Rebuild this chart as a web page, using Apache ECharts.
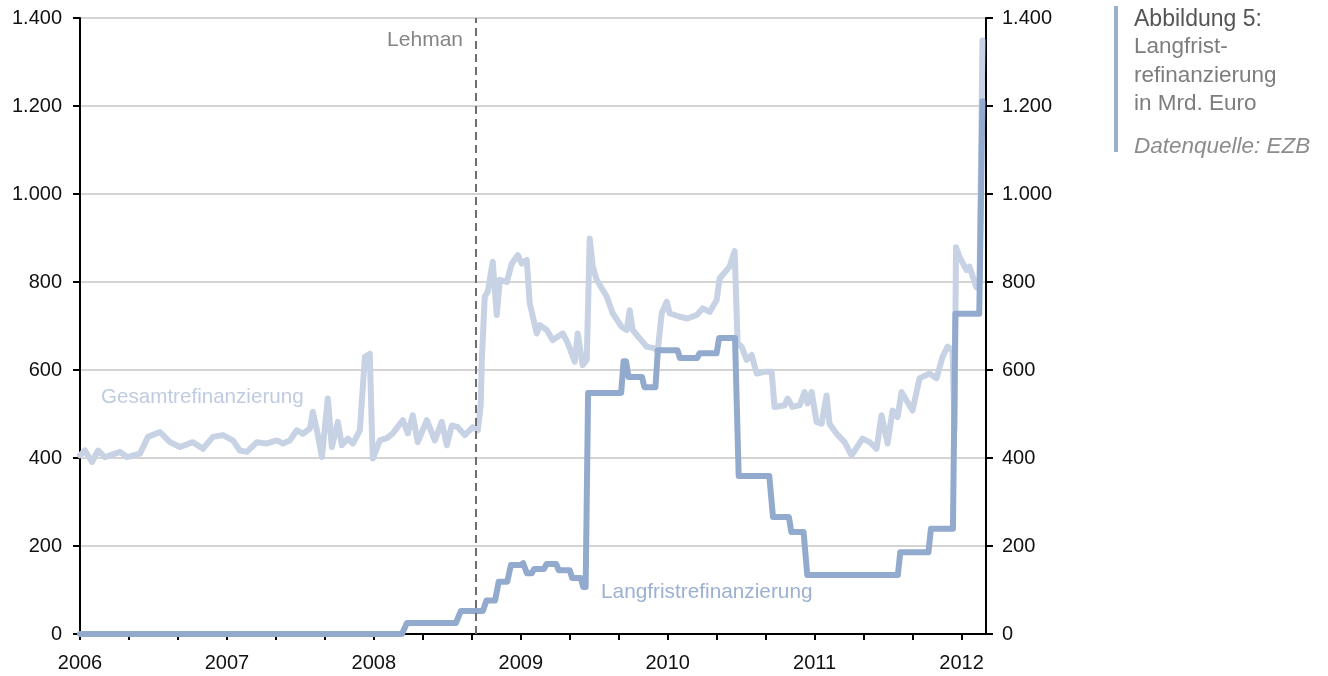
<!DOCTYPE html>
<html>
<head>
<meta charset="utf-8">
<title>Langfristrefinanzierung</title>
<script src="https://cdn.jsdelivr.net/npm/echarts@6/dist/echarts.min.js"></script>
<style>
  html, body { margin: 0; padding: 0; background: #fff; }
  #chart { width: 1328px; height: 676px; }
</style>
</head>
<body>
<div id="chart"></div>
<script>
// x values are months since January 2006
const yearLabels = ['2006', '2007', '2008', '2009', '2010', '2011', '2012'];
const lehmanMonth = 32.3;

const gesamtMonths = [
  0, 0.41, 0.98, 1.47, 2.04, 3.27, 3.84, 4.9, 5.55, 6.53, 7.35, 8.16, 9.22, 10.04, 10.86, 11.67,
  12.49, 13.06, 13.63, 14.45, 15.27, 16.08, 16.57, 17.14, 17.71, 18.2, 18.78, 19.02, 19.35, 19.76,
  20.24, 20.57, 21.06, 21.39, 21.88, 22.29, 22.86, 23.27, 23.67, 23.84, 23.92, 24.49, 25.06, 25.55,
  26.37, 26.78, 27.18, 27.59, 28.33, 28.98, 29.55, 29.96, 30.37, 30.86, 31.43, 32.08, 32.49,
  32.73, 32.82, 33.06, 33.31, 33.71, 34.04, 34.29, 34.86, 35.27, 35.75, 36.08, 36.49, 36.73,
  37.31, 37.55, 38.12, 38.61, 39.43, 39.84, 40.41, 40.65, 41.06, 41.39, 41.63, 41.88, 42.2,
  43.02, 43.51, 44.24, 44.65, 44.9, 45.14, 45.71, 46.28, 46.94, 47.18, 47.51, 47.92, 48.16,
  48.98, 49.63, 50.37, 50.86, 51.43, 52.0, 52.24, 53.06, 53.47, 53.71, 54.04, 54.45, 54.86,
  55.27, 55.92, 56.49, 56.73, 57.55, 57.8, 58.2, 58.78, 59.18, 59.43, 59.76, 60.16, 60.57,
  60.98, 61.22, 61.8, 62.04, 62.45, 63.02, 63.92, 64.49, 65.06, 65.47, 65.96, 66.37, 66.78,
  67.1, 68.0, 68.57, 69.39, 69.96, 70.45, 70.86, 71.27, 71.43, 71.55, 71.84, 72.41, 72.65,
  73.22, 73.47, 73.71
];
const gesamtValues = [
  406, 417, 391, 417, 402, 414, 402, 410, 448, 459, 436, 425, 436, 421, 448, 452,
  440, 417, 414, 436, 433, 440, 433, 440, 463, 455, 467, 505, 463, 402,
  535, 425, 482, 429, 444, 433, 463, 630, 637, 463, 399, 440, 445, 456,
  486, 456, 497, 436, 486, 440, 482, 429, 474, 470, 452, 470, 463,
  520, 623, 767, 778, 846, 725, 805, 800, 842, 861, 842, 850, 752,
  683, 702, 691, 668, 683, 661, 619, 683, 611, 623, 899, 835, 805,
  767, 729, 698, 691, 736, 691, 672, 653, 649, 641, 729, 755, 729,
  721, 717, 725, 740, 732, 759, 808, 835, 870, 661, 653, 623, 634,
  592, 596, 596, 516, 520, 535, 516, 520, 550, 524, 550, 482, 478,
  542, 478, 455, 448, 436, 406, 444, 436, 421, 497, 433, 508, 493,
  550, 508, 581, 592, 581, 630, 653, 645, 464, 879, 857, 827, 835,
  788, 797, 1349
];

const langMonths = [
  0, 26.3, 26.7, 30.7, 31.1, 32.9, 33.2, 33.9, 34.2, 34.9, 35.2, 36.0, 36.2, 36.5, 36.9, 37.1,
  37.9, 38.1, 38.9, 39.1, 40.0, 40.2, 40.9, 41.1, 41.3, 41.5, 44.2, 44.4, 44.6, 44.8, 45.9, 46.1,
  47.0, 47.2, 48.8, 49.0, 50.4, 50.6, 52.0, 52.2, 53.5, 53.8, 56.3, 56.6, 57.9, 58.1, 59.1, 59.4,
  66.8, 67.0, 69.3, 69.5, 71.3, 71.5, 73.45, 73.71
];
const langValues = [
  0, 0, 25, 25, 52, 52, 76, 76, 119, 119, 157, 157, 161, 138, 138, 148,
  148, 159, 159, 145, 145, 127, 127, 107, 107, 548, 548, 620, 620, 584, 584, 561,
  561, 645, 645, 627, 627, 638, 638, 673, 673, 359, 359, 266, 266, 232, 232, 134,
  134, 186, 186, 239, 239, 728, 728, 1211
];

const chart = echarts.init(document.getElementById('chart'));

function deNum(v) {
  return v >= 1000 ? Math.floor(v / 1000) + '.' + String(v % 1000).padStart(3, '0') : String(v);
}

const FONT = 'Liberation Sans, Arial, sans-serif';
const axisFont = { fontFamily: FONT, fontSize: 20, color: '#111' };
const blackLine = { color: '#000', width: 2 };

chart.setOption({
  animation: false,
  backgroundColor: '#fff',
  grid: { left: 80, right: 342, top: 18, bottom: 42 },
  xAxis: {
    type: 'value',
    min: 0,
    max: 74,
    interval: 4,
    axisLine: { lineStyle: blackLine },
    axisTick: { length: 6, lineStyle: blackLine },
    splitLine: { show: false },
    axisLabel: Object.assign({
      margin: 19,
      showMaxLabel: false,
      formatter: v => (v % 12 === 0 ? yearLabels[v / 12] : '')
    }, axisFont)
  },
  yAxis: [
    {
      type: 'value', min: 0, max: 1400, interval: 200, position: 'left',
      axisLine: { show: true, lineStyle: blackLine },
      axisTick: { show: true, length: 7, lineStyle: blackLine },
      splitLine: { show: true, lineStyle: { color: '#d4d4d4', width: 2 } },
      axisLabel: Object.assign({ margin: 18, formatter: deNum }, axisFont)
    },
    {
      type: 'value', min: 0, max: 1400, interval: 200, position: 'right',
      axisLine: { show: true, lineStyle: blackLine },
      axisTick: { show: true, length: 7, lineStyle: blackLine },
      splitLine: { show: false },
      axisLabel: Object.assign({ margin: 16, formatter: deNum }, axisFont)
    }
  ],
  series: [
    {
      name: 'Gesamtrefinanzierung',
      type: 'line',
      data: gesamtMonths.map((m, i) => [m, gesamtValues[i]]),
      showSymbol: false,
      lineStyle: { color: '#c7d2e4', width: 6, join: 'round', cap: 'round' },
      markLine: {
        silent: true,
        symbol: 'none',
        label: { show: false },
        lineStyle: { color: '#6e6e6e', width: 2, type: [8, 5] },
        data: [{ xAxis: lehmanMonth }]
      }
    },
    {
      name: 'Langfristrefinanzierung',
      type: 'line',
      data: langMonths.map((m, i) => [m, langValues[i]]),
      showSymbol: false,
      lineStyle: { color: '#93aacf', width: 6, join: 'round', cap: 'round' }
    }
  ],
  graphic: [
    { type: 'text', right: 1328 - 463, top: 30,
      style: { text: 'Lehman', fill: '#858585', font: '21px ' + FONT } },
    { type: 'text', left: 101, top: 387,
      style: { text: 'Gesamtrefinanzierung', fill: '#bfcbe0', font: '20.6px ' + FONT } },
    { type: 'text', left: 601, top: 582,
      style: { text: 'Langfristrefinanzierung', fill: '#9cb0d2', font: '20.8px ' + FONT } },
    { type: 'rect', shape: { x: 1114, y: 6, width: 4, height: 146 }, style: { fill: '#9aaecf' } },
    { type: 'text', left: 1134, top: 8,
      style: { text: 'Abbildung 5:', fill: '#555', font: '23px ' + FONT } },
    { type: 'text', left: 1134, top: 33,
      style: { text: 'Langfrist-\nrefinanzierung\nin Mrd. Euro', fill: '#7d7d7d', lineHeight: 28.5,
               font: '22.5px ' + FONT } },
    { type: 'text', left: 1134, top: 135,
      style: { text: 'Datenquelle: EZB', fill: '#8c8c8c', font: 'italic 22.5px ' + FONT } }
  ]
});
</script>
</body>
</html>
